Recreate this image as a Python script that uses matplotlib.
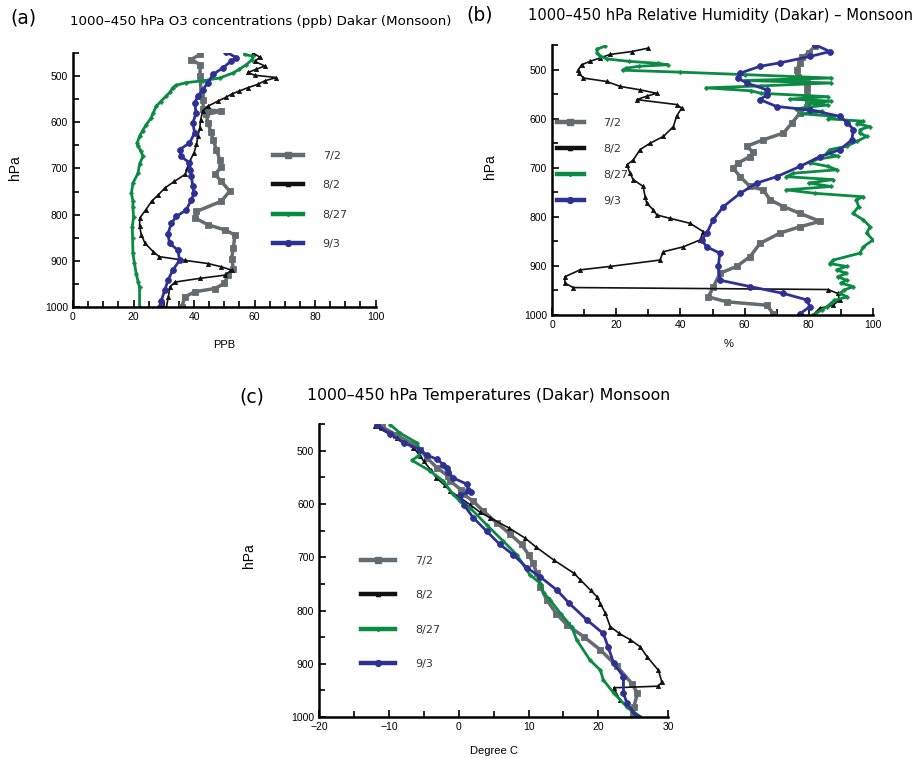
import numpy as np
import matplotlib.pyplot as plt
from matplotlib.lines import Line2D
from matplotlib.ticker import MultipleLocator

# ---- (a) O3 (ppb) ----
o3_p_0702 = [453, 464, 475, 500, 543, 551, 572, 576, 583, 601, 620, 638, 659, 681, 696, 713, 728, 749,
             771, 793, 807, 822, 833, 844, 873, 895, 917, 931, 949, 960, 967, 978, 1000]
o3_v_0702 = [42, 39, 42, 42, 42.4, 43, 43, 49, 44, 44.6, 45.5, 46.3, 47.4, 48.5, 49, 47, 49, 51.8,
             49, 40.8, 40.3, 44.6, 50.2, 53.5, 53, 52.4, 53, 51.2, 50, 46.9, 40.3, 37, 35.9]
o3_p_0802 = [450, 459, 468, 478, 485, 492, 498, 503, 510, 518, 525, 532, 539, 546, 554, 565, 575, 594,
             612, 630, 648, 666, 684, 700, 713, 728, 742, 757, 771, 790, 807, 825, 844, 862, 880, 891,
             899, 906, 913, 920, 931, 938, 946, 957, 978, 1000]
o3_v_0802 = [59.5, 61.8, 60, 63.4, 60.6, 57.8, 60, 67.2, 63.4, 61, 57.8, 55, 52.4, 50.5, 47.9, 44.6, 42.9, 42.2,
             41.9, 41.3, 40.8, 40, 38.6, 37.8, 37, 33.5, 30.4, 28.2, 26, 24, 22.1, 22, 22.6, 23.8, 26.5, 28.5,
             37, 44.7, 49, 52.4, 50.2, 41.9, 33.7, 32, 31.5, 30.9]
o3_p_0827 = [453, 457, 465, 475, 485, 493, 504, 510, 514, 520, 525, 535, 543, 555, 565, 580, 591, 605, 618,
             630, 645, 652, 663, 674, 690, 710, 732, 754, 770, 783, 805, 826, 850, 884, 905, 928, 945, 957, 1000]
o3_v_0827 = [56.7, 59.5, 59, 57.3, 55, 52.9, 48.5, 43, 37.4, 34, 33, 32, 30.8, 29, 27.5, 26.5, 25.8, 24.2, 23,
             22, 21.2, 21.5, 22.5, 23.1, 22, 21.5, 19.8, 19.3, 19.8, 19.8, 20, 19.6, 19.7, 19.8, 20.3, 20.9, 21.5, 22, 22]
o3_p_0903 = [448, 460, 467, 482, 496, 514, 529, 543, 558, 580, 601, 623, 645, 659, 674, 688, 703, 717, 739,
             754, 768, 790, 804, 819, 841, 862, 877, 899, 920, 942, 964, 986, 1000]
o3_v_0903 = [50.7, 54, 52.3, 49.6, 46.3, 44.6, 42.9, 41.3, 40.2, 40.7, 39.6, 40.2, 38.5, 35.2, 35.8, 38.5, 38.8, 39.1, 39.6,
             40, 39.1, 37.4, 34.1, 32.5, 31.4, 31.9, 34.7, 35.2, 33, 31.4, 30.3, 29.2, 28.6]

# ---- (b) relative humidity (%) ----
rh_p_0702 = [452, 465, 475, 486, 500, 514, 527, 540, 554, 575, 588, 609, 629, 643, 656, 667, 677, 690, 701,
             718, 738, 745, 765, 779, 793, 809, 820, 833, 854, 881, 901, 915, 942, 963, 973, 980, 997]
rh_v_0702 = [81.9, 80, 78, 77.3, 76.2, 76.7, 79.3, 79.5, 79.3, 79.3, 77.3, 74.7, 72.1, 65.8, 60.6, 62.5, 61.7, 58, 56.5,
             58.6, 61.7, 65.8, 67.9, 72.1, 77.3, 83.5, 77.3, 71, 64.8, 61.7, 57.5, 52.3, 50.3, 48.7, 54.4, 66.9, 68.9]
rh_p_0802 = [456, 463, 469, 476, 483, 490, 500, 507, 517, 524, 534, 541, 548, 554, 561, 571, 578, 595, 616,
             636, 650, 663, 684, 694, 711, 724, 738, 759, 772, 786, 796, 803, 813, 830, 847, 861, 871, 888,
             901, 908, 922, 935, 944, 948, 956, 969, 980, 986, 1000]
rh_v_0802 = [30, 24.8, 18, 15, 11.8, 9.2, 8.2, 8.4, 9.8, 17, 21.2, 27.4, 32.6, 29.5, 26.4, 38.8, 40.4, 38.8, 37.8,
             34.7, 30.5, 27.4, 25.3, 23.3, 24.3, 25.3, 28.4, 29, 29.5, 31.6, 32.6, 36.8, 43, 47.1, 46.1, 40.9, 34.7, 33.6,
             18, 8.7, 4, 4, 6.6, 86, 89, 89.6, 87.6, 83.4, 81.3]
rh_p_0827 = [452, 458, 465, 472, 478, 483, 487, 490, 493, 497, 501, 505, 510, 517, 522, 527, 533, 537, 543,
             548, 555, 560, 564, 568, 572, 576, 580, 585, 590, 595, 600, 605, 610, 616, 622, 629, 636, 646,
             656, 663, 670, 676, 683, 690, 697, 704, 711, 718, 724, 731, 738, 745, 752, 759, 765, 779, 793,
             806, 820, 833, 847, 861, 874, 888, 895, 901, 908, 915, 922, 929, 935, 942, 949, 956, 963, 970,
             976, 983, 990, 1000]
rh_v_0827 = [16.5, 14, 14, 15, 17, 24, 33, 36, 27, 23, 22, 40, 60, 87, 60, 87, 65, 48, 62,
             65, 86, 74, 87, 80, 86, 80, 76, 84, 78, 88, 86, 97, 95, 99, 96, 95.9, 98, 95,
             91.8, 86.5, 85.6, 89, 82, 80.4, 86, 88.7, 75.2, 73, 87.6, 80, 87, 73, 82, 97, 94.8, 95.5, 93.8,
             97, 99.1, 98, 100, 97, 95.9, 87.6, 86.5, 91.8, 88.7, 91.7, 89, 91.8, 90, 93.9, 91, 89.7, 92, 88,
             87, 85.6, 84, 81.3]
rh_p_0903 = [449, 463, 473, 486, 493, 507, 517, 527, 541, 551, 561, 575, 582, 595, 608, 622, 643, 663, 677,
             697, 718, 731, 752, 779, 806, 833, 847, 861, 874, 901, 929, 942, 956, 969, 983, 997]
rh_v_0903 = [81.9, 86.6, 80.4, 71, 64.8, 58.6, 58, 60.6, 66.9, 67, 64.8, 70, 80.4, 89.7, 92, 93.9, 93.4, 89.7, 83.5,
             77.3, 70, 63.8, 58.6, 53.4, 50.2, 48.2, 46.6, 48.2, 52.3, 51.8, 52.3, 61.7, 72.1, 79.3, 80.4, 77.3]

# ---- (c) temperature (deg C) ----
t_p_0702 = [455, 470, 488, 498, 513, 532, 548, 557, 573, 582, 595, 613, 636, 657, 676, 695, 710, 730, 755,
            780, 806, 827, 849, 874, 905, 937, 955, 981, 997]
t_v_0702 = [-11, -9, -6.5, -5.5, -4.6, -3.1, -1.5, -1.2, 0.3, 0.7, 2.1, 3.5, 5.5, 7.4, 9, 10, 10.6, 11.2, 11.7,
            12.6, 14, 15.5, 17.9, 20.3, 22.7, 24.8, 25.6, 25.1, 25]
t_p_0802 = [454, 476, 494, 510, 520, 536, 551, 565, 576, 588, 601, 615, 626, 645, 664, 680, 705, 730, 742,
            762, 774, 787, 805, 830, 843, 855, 868, 887, 912, 934, 942, 945, 968, 999]
t_v_0802 = [-12, -8.9, -6.5, -5.5, -5, -4, -3.2, -2, -1.2, 0.2, 1.6, 3, 4.5, 7.2, 9.5, 11, 13.6, 16.5, 17.4,
            18.9, 19.8, 20.3, 21, 21.7, 23, 24.6, 26, 27, 28.6, 29.1, 28.6, 22.2, 23.1, 25.5]
t_p_0827 = [451, 467, 485, 501, 510, 518, 538, 557, 582, 595, 607, 639, 670, 695, 733, 749, 768, 780, 806,
            831, 855, 893, 912, 930, 955, 981, 999]
t_v_0827 = [-9.8, -8.4, -6, -5.5, -5.8, -6.7, -4.1, -2.2, -0.8, 0.2, 1.6, 4, 6.4, 8.3, 10.2, 11.7, 12.2, 13.1, 14.6,
            16.2, 16.9, 18.8, 20.3, 20.7, 22.2, 24.1, 26]
t_p_0903 = [451, 469, 485, 498, 508, 516, 526, 532, 539, 551, 563, 573, 577, 583, 601, 626, 651, 676, 695,
            720, 737, 762, 786, 818, 843, 868, 899, 924, 955, 974, 999]
t_v_0903 = [-11.7, -9.8, -7.9, -5.5, -4.6, -3.1, -2.2, -1.7, -1.5, -0.8, 1.2, 1.4, 1.7, 0.2, 0.7, 2.1, 4, 5.9, 7.8,
            9.8, 11.7, 14.1, 15.8, 18.4, 20.7, 21.4, 22.2, 23.6, 23.6, 24.1, 25.5]

labels = ['7/2', '8/2', '8/27', '9/3']
colors = ['#646c70', '#111111', '#0b8a44', '#2e3192']
markers = ['s', '^', 'P', 'o']
msizes = [4.8, 3, 2.5, 4.2]
lwidths = [2.5, 1.2, 2, 2]

plt.rcParams['font.family'] = 'DejaVu Sans'
fig = plt.figure(figsize=(9.17, 7.58), dpi=100)

ax_a = fig.add_axes([0.0796, 0.595, 0.330, 0.335])
ax_b = fig.add_axes([0.602, 0.5844, 0.350, 0.356])
ax_c = fig.add_axes([0.348, 0.054, 0.3806, 0.3865])


def draw(ax, series, xlim, xmajor, xminor, xlabel):
    for (p, v), c, m, ms, lw in zip(series, colors, markers, msizes, lwidths):
        ax.plot(v, p, color=c, marker=m, markersize=ms, linewidth=lw, markeredgewidth=0.6)
    ax.set_xlim(*xlim)
    ax.set_ylim(1000, 450)
    ax.xaxis.set_major_locator(MultipleLocator(xmajor))
    ax.xaxis.set_minor_locator(MultipleLocator(xminor))
    ax.yaxis.set_minor_locator(MultipleLocator(50))
    ax.set_yticks([500, 600, 700, 800, 900, 1000])
    for s in ['top', 'right']:
        ax.spines[s].set_visible(False)
    for s in ['left', 'bottom']:
        ax.spines[s].set_linewidth(1.8)
    ax.tick_params(which='both', direction='in', labelsize=7.5, width=1.2)
    ax.tick_params(which='major', length=5)
    ax.tick_params(which='minor', length=4)
    for t in ax.get_xticklabels() + ax.get_yticklabels():
        t.set_family('Liberation Sans')
    ax.set_xlabel(xlabel, fontsize=8, family='Liberation Sans')
    ax.set_ylabel('hPa', fontsize=10, family='Liberation Sans')


def add_legend(ax, anchor, spacing, hl):
    handles = [Line2D([], [], color=c, marker=m, markersize=ms, linewidth=3.2)
               for c, m, ms in zip(colors, markers, msizes)]
    leg = ax.legend(handles, labels, loc='upper left', bbox_to_anchor=anchor, frameon=False,
                    fontsize=8, handlelength=hl, handletextpad=1.8, labelspacing=spacing,
                    borderaxespad=0, borderpad=0)
    for t in leg.get_texts():
        t.set_color('#333333')


draw(ax_a, [(o3_p_0702, o3_v_0702), (o3_p_0802, o3_v_0802), (o3_p_0827, o3_v_0827), (o3_p_0903, o3_v_0903)],
     (0, 100), 20, 5, 'PPB')
ax_a.yaxis.set_label_coords(-0.17, 0.55)
ax_a.xaxis.set_label_coords(0.5, -0.13)
add_legend(ax_a, (0.66, 0.615), 1.75, 2.7)

draw(ax_b, [(rh_p_0702, rh_v_0702), (rh_p_0802, rh_v_0802), (rh_p_0827, rh_v_0827), (rh_p_0903, rh_v_0903)],
     (0, 100), 20, 10, '%')
ax_b.yaxis.set_label_coords(-0.17, 0.55)
ax_b.xaxis.set_label_coords(0.55, -0.09)
add_legend(ax_b, (0.015, 0.73), 1.45, 2.4)

draw(ax_c, [(t_p_0702, t_v_0702), (t_p_0802, t_v_0802), (t_p_0827, t_v_0827), (t_p_0903, t_v_0903)],
     (-20, 30), 10, 5, 'Degree C')
ax_c.yaxis.set_label_coords(-0.18, 0.55)
ax_c.xaxis.set_label_coords(0.5, -0.1)
add_legend(ax_c, (0.12, 0.55), 2.2, 3.1)

fig.text(0.011, 0.976, '(a)', fontsize=13.5, va='center')
fig.text(0.076, 0.972, '1000\u2013450 hPa O3 concentrations (ppb) Dakar (Monsoon)', fontsize=9.6, va='center')
fig.text(0.509, 0.98, '(b)', fontsize=13.5, va='center')
fig.text(0.576, 0.98, '1000\u2013450 hPa Relative Humidity (Dakar) \u2013 Monsoon', fontsize=10.6, va='center')
fig.text(0.261, 0.476, '(c)', fontsize=13.5, va='center')
fig.text(0.335, 0.478, '1000\u2013450 hPa Temperatures (Dakar) Monsoon', fontsize=11.3, va='center')

fig.savefig('out.png', dpi=100)
